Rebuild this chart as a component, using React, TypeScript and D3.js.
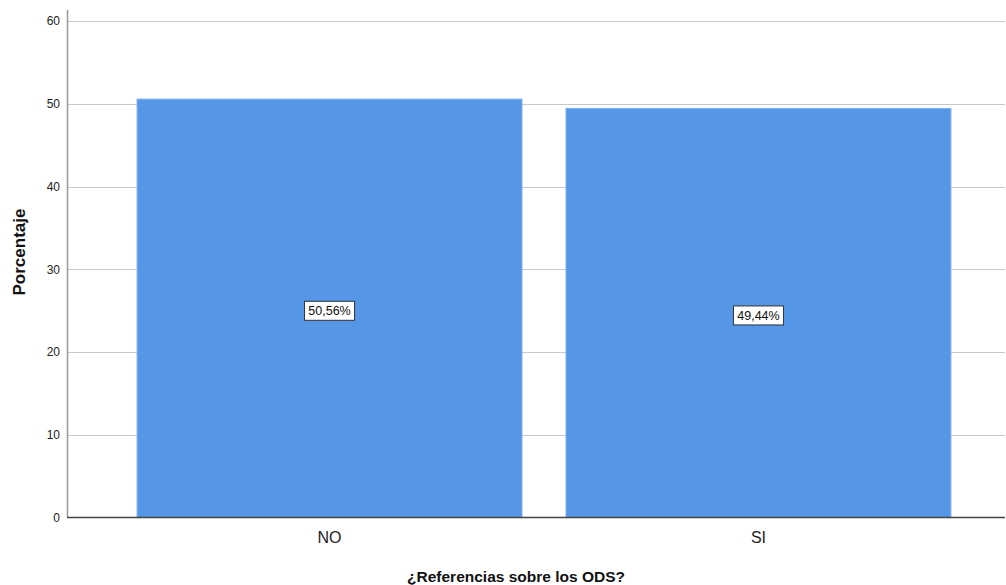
import React, { useEffect, useRef } from "react";
import { axisLeft, scaleBand, scaleLinear, select } from "d3";

const WIDTH = 1006;
const HEIGHT = 585;
const LEFT = 68;
const RIGHT = 1020;
const TOP = 21;
const BOTTOM = 517.5;
const FONT = "'Liberation Sans', Arial, sans-serif";

const categories = ["NO", "SI"];
const percentages = [50.56, 49.44];
const valueLabels = ["50,56%", "49,44%"];
const yTicks = [0, 10, 20, 30, 40, 50, 60];

export default function App() {
    const svgRef = useRef<SVGSVGElement>(null);

    useEffect(() => {
        const svg = select(svgRef.current);
        svg.selectAll("*").remove();

        const x = scaleBand<string>()
            .domain(categories)
            .range([LEFT, RIGHT])
            .paddingInner(0.1026)
            .paddingOuter(0.161);
        const y = scaleLinear().domain([0, 60]).range([BOTTOM, TOP]);

        // grid
        svg.append("g")
            .selectAll("line")
            .data(yTicks.filter(t => t > 0))
            .enter()
            .append("line")
            .attr("x1", LEFT)
            .attr("x2", WIDTH - 1)
            .attr("y1", d => Math.round(y(d)) + 0.5)
            .attr("y2", d => Math.round(y(d)) + 0.5)
            .attr("stroke", "#c8c8c8")
            .attr("stroke-width", 1.2);

        // bars
        svg.append("g")
            .selectAll("rect")
            .data(categories)
            .enter()
            .append("rect")
            .attr("x", d => x(d)!)
            .attr("width", x.bandwidth())
            .attr("y", (d, i) => y(percentages[i]))
            .attr("height", (d, i) => BOTTOM - y(percentages[i]))
            .attr("fill", "#5596e6")
            .attr("stroke", "#7eb0ee")
            .attr("stroke-width", 1);

        // y axis
        const yAxis = axisLeft(y).tickValues(yTicks).tickSize(0).tickPadding(8);
        const yg = svg.append("g").attr("transform", `translate(${LEFT},0)`).call(yAxis);
        yg.select(".domain").remove();
        yg.selectAll("text")
            .attr("font-family", FONT)
            .attr("font-size", 12)
            .attr("fill", "#222");
        svg.append("line")
            .attr("x1", LEFT - 0.5)
            .attr("x2", LEFT - 0.5)
            .attr("y1", 10)
            .attr("y2", BOTTOM)
            .attr("stroke", "#999")
            .attr("stroke-width", 1.5);

        // x axis line
        svg.append("line")
            .attr("x1", LEFT - 1)
            .attr("x2", WIDTH - 1)
            .attr("y1", BOTTOM)
            .attr("y2", BOTTOM)
            .attr("stroke", "#444")
            .attr("stroke-width", 1.5);

        // category labels
        svg.append("g")
            .selectAll("text")
            .data(categories)
            .enter()
            .append("text")
            .attr("x", d => x(d)! + x.bandwidth() / 2)
            .attr("y", 543)
            .attr("text-anchor", "middle")
            .attr("font-family", FONT)
            .attr("font-size", 16)
            .attr("fill", "#222")
            .text(d => d);

        // value labels
        const labels = svg.append("g")
            .selectAll("g")
            .data(categories)
            .enter()
            .append("g")
            .attr("transform", (d, i) =>
                `translate(${x(d)! + x.bandwidth() / 2},${y(percentages[i] / 2) + 2.5})`);
        labels.append("rect")
            .attr("x", -25)
            .attr("y", -9.5)
            .attr("width", 50)
            .attr("height", 19)
            .attr("fill", "#fff")
            .attr("stroke", "#333")
            .attr("stroke-width", 1);
        labels.append("text")
            .attr("text-anchor", "middle")
            .attr("y", 4.5)
            .attr("font-family", FONT)
            .attr("font-size", 12.5)
            .attr("fill", "#111")
            .text((d, i) => valueLabels[i]);

        // axis titles
        svg.append("text")
            .attr("transform", `translate(25,252) rotate(-90)`)
            .attr("text-anchor", "middle")
            .attr("font-family", FONT)
            .attr("font-size", 17)
            .attr("font-weight", "bold")
            .attr("fill", "#111")
            .text("Porcentaje");
        svg.append("text")
            .attr("x", 516)
            .attr("y", 582)
            .attr("text-anchor", "middle")
            .attr("font-family", FONT)
            .attr("font-size", 15.5)
            .attr("font-weight", "bold")
            .attr("fill", "#111")
            .text("¿Referencias sobre los ODS?");
    }, []);

    return (
        <svg
            ref={svgRef}
            width={WIDTH}
            height={HEIGHT}
            style={{ position: "absolute", left: 0, top: 0, background: "#fff" }}
        />
    );
}
